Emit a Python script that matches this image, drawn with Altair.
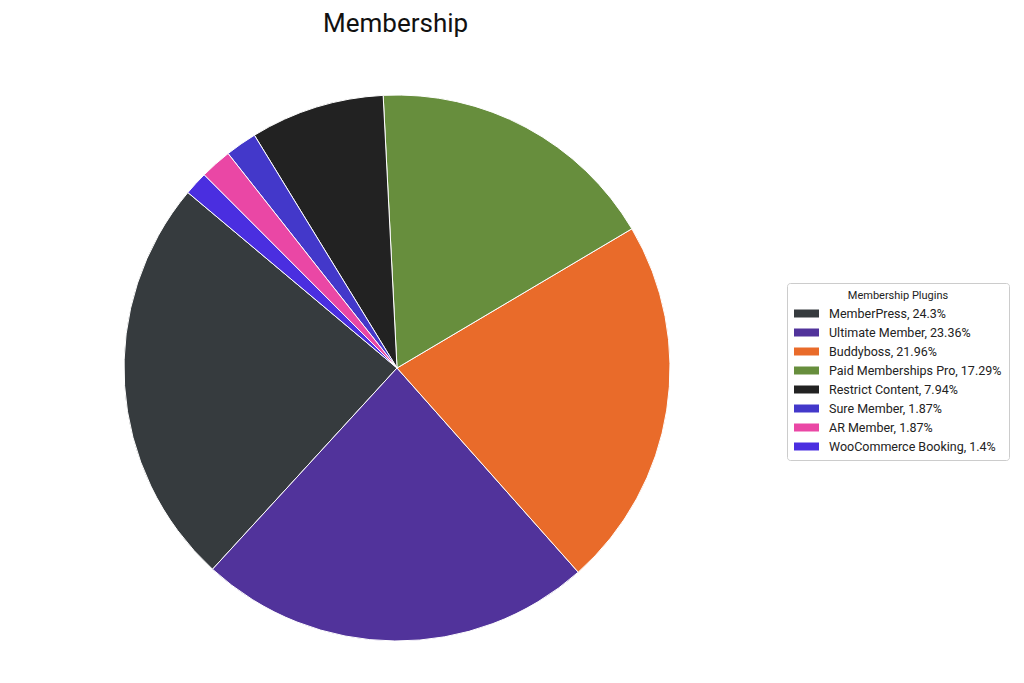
import altair as alt
import pandas as pd
import math

plugins = ["MemberPress", "Ultimate Member", "Buddyboss", "Paid Memberships Pro",
           "Restrict Content", "Sure Member", "AR Member", "WooCommerce Booking"]
shares = [24.3, 23.36, 21.96, 17.29, 7.94, 1.87, 1.87, 1.4]
colors = ["#363b3e", "#51339b", "#e96b2a", "#678e3d", "#222222", "#4338ca", "#ea47a5", "#4a2ee0"]

labels = [f"{p}, {s:g}%" for p, s in zip(plugins, shares)]
df = pd.DataFrame({"label": labels, "share": shares, "order": list(range(len(shares)))})

start = math.radians(310)
FONT = "Roboto"

chart = alt.Chart(df).mark_arc(stroke="white", strokeWidth=1, radius=273).encode(
    theta=alt.Theta("share:Q", stack=True,
                    scale=alt.Scale(range=[start, start - 2 * math.pi])),
    order=alt.Order("order:Q"),
    color=alt.Color("label:N", sort=labels,
                    scale=alt.Scale(domain=labels, range=colors),
                    legend=alt.Legend(title="Membership Plugins", orient="none",
                                      legendX=779, legendY=242,
                                      titleAnchor="middle", titleFontWeight="normal",
                                      titleFontSize=11, titleFont=FONT, titleColor="#222",
                                      titlePadding=0,
                                      labelFont=FONT, labelFontSize=12.5, labelColor="#222",
                                      symbolType="M-1,-0.32L1,-0.32L1,0.32L-1,0.32Z",
                                      symbolSize=625, symbolStrokeWidth=0,
                                      strokeColor="#cccccc", cornerRadius=3, padding=7,
                                      rowPadding=-1.1, labelOffset=10, labelLimit=300)),
    x=alt.value(389),
    y=alt.value(327),
).properties(
    width=1000, height=625,
    padding={"top": 3, "left": 0, "right": 0, "bottom": 0},
    title=alt.TitleParams("Membership", fontSize=26, font=FONT, fontWeight="normal",
                          color="#111", anchor="start", dx=315, offset=4),
).configure_view(stroke=None)

chart.save("out.html", embed_options={"renderer": "svg", "actions": False})
